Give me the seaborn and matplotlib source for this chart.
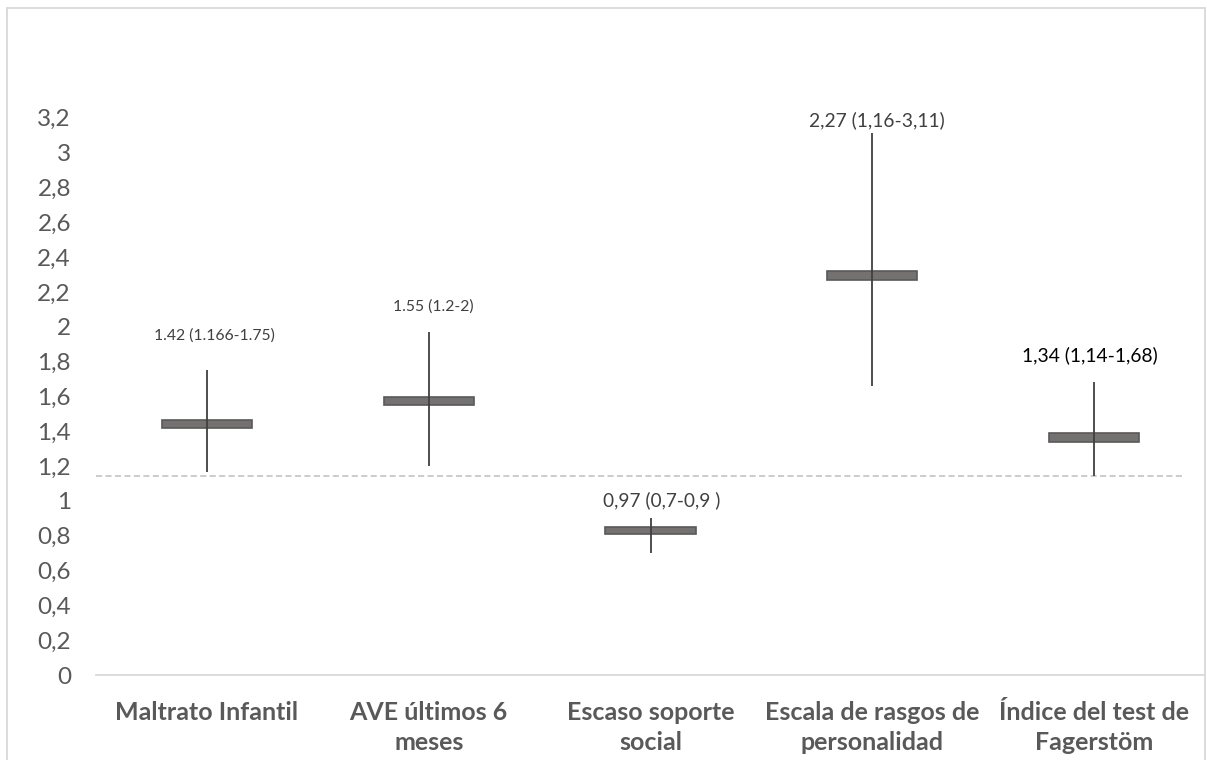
import matplotlib
matplotlib.use("Agg")
import matplotlib.pyplot as plt
import seaborn as sns
import pandas as pd
import numpy as np
from matplotlib.patches import Rectangle
from matplotlib.ticker import FixedLocator, FuncFormatter

# Odds-ratio style summary per risk factor
categories = [
    "Maltrato Infantil",
    "AVE últimos 6\nmeses",
    "Escaso soporte\nsocial",
    "Escala de rasgos de\npersonalidad",
    "Índice del test de\nFagerstöm",
]
ci_low = [1.166, 1.2, 0.70, 1.66, 1.14]
ci_high = [1.75, 1.97, 0.90, 3.11, 1.68]
box_low = [1.42, 1.55, 0.81, 2.27, 1.34]
box_high = [1.467, 1.597, 0.852, 2.317, 1.387]
value_labels = [
    "1.42 (1.166-1.75)",
    "1.55 (1.2-2)",
    "0,97 (0,7-0,9 )",
    "2,27 (1,16-3,11)",
    "1,34 (1,14-1,68)",
]
reference_level = 1.145
y_ticks = [0, 0.2, 0.4, 0.6, 0.8, 1, 1.2, 1.4, 1.6, 1.8, 2, 2.2, 2.4, 2.6, 2.8, 3, 3.2]

# Text placement for the value labels (category offset, height)
label_dx = [0.034, 0.02, 0.05, 0.02, -0.02]
label_y = [1.952, 2.113, 1.005, 3.186, 1.837]
label_size = [11.3, 11.3, 13.7, 13.9, 13.9]
label_color = ["#404040", "#404040", "#404040", "#404040", "#000000"]

sns.set_theme(style="white")
plt.rcParams["font.family"] = ["Lato", "DejaVu Sans"]

df = pd.DataFrame({
    "factor": categories,
    "bottom": box_low,
    "height": np.array(box_high) - np.array(box_low),
})

fig = plt.figure(figsize=(12.07, 7.60), dpi=100)
ax = fig.add_axes([96 / 1207, 1 - 675 / 760, (1205 - 96) / 1207, (675 - 117.7) / 760])

sns.barplot(
    data=df, x="factor", y="height", bottom=df["bottom"].to_numpy(),
    width=0.406, color="#767171", saturation=1, edgecolor="#595959",
    linewidth=1.2, errorbar=None, ax=ax, zorder=2,
)

# Confidence interval whiskers drawn over the boxes
ax.vlines(range(len(categories)), ci_low, ci_high, color="#404040", lw=1.3, zorder=3)

# Dashed reference level
ax.hlines(reference_level, -0.5, 4.4, colors="#BFBFBF", lw=1.1,
          linestyles=(0, (4, 2.2)), zorder=1)

for i, txt in enumerate(value_labels):
    ax.text(i + label_dx[i], label_y[i], txt, ha="center", va="center",
            fontsize=label_size[i], color=label_color[i], clip_on=False)

ax.set_xlim(-0.5, 4.5)
ax.set_ylim(0, 3.2)
ax.yaxis.set_major_locator(FixedLocator(y_ticks))
ax.yaxis.set_major_formatter(FuncFormatter(lambda v, p: f"{v:g}".replace(".", ",")))
ax.set_xlabel("")
ax.set_ylabel("")

for side in ["top", "right", "left"]:
    ax.spines[side].set_visible(False)
ax.spines["bottom"].set_color("#D9D9D9")
ax.spines["bottom"].set_linewidth(1.3)

ax.tick_params(axis="y", length=0, pad=18, labelsize=17.5, labelcolor="#595959")
ax.tick_params(axis="x", length=0, pad=19, labelsize=18, labelcolor="#595959")
for lbl in ax.get_xticklabels():
    lbl.set_fontweight("bold")
    lbl.set_linespacing(1.33)

# Light outer chart frame
fig.add_artist(Rectangle((7 / 1207, -0.01), (1205 - 7) / 1207, 1 - 8 / 760 + 0.01,
                         transform=fig.transFigure, fill=False,
                         edgecolor="#D9D9D9", lw=1.3))

fig.savefig("out.png", dpi=100)
